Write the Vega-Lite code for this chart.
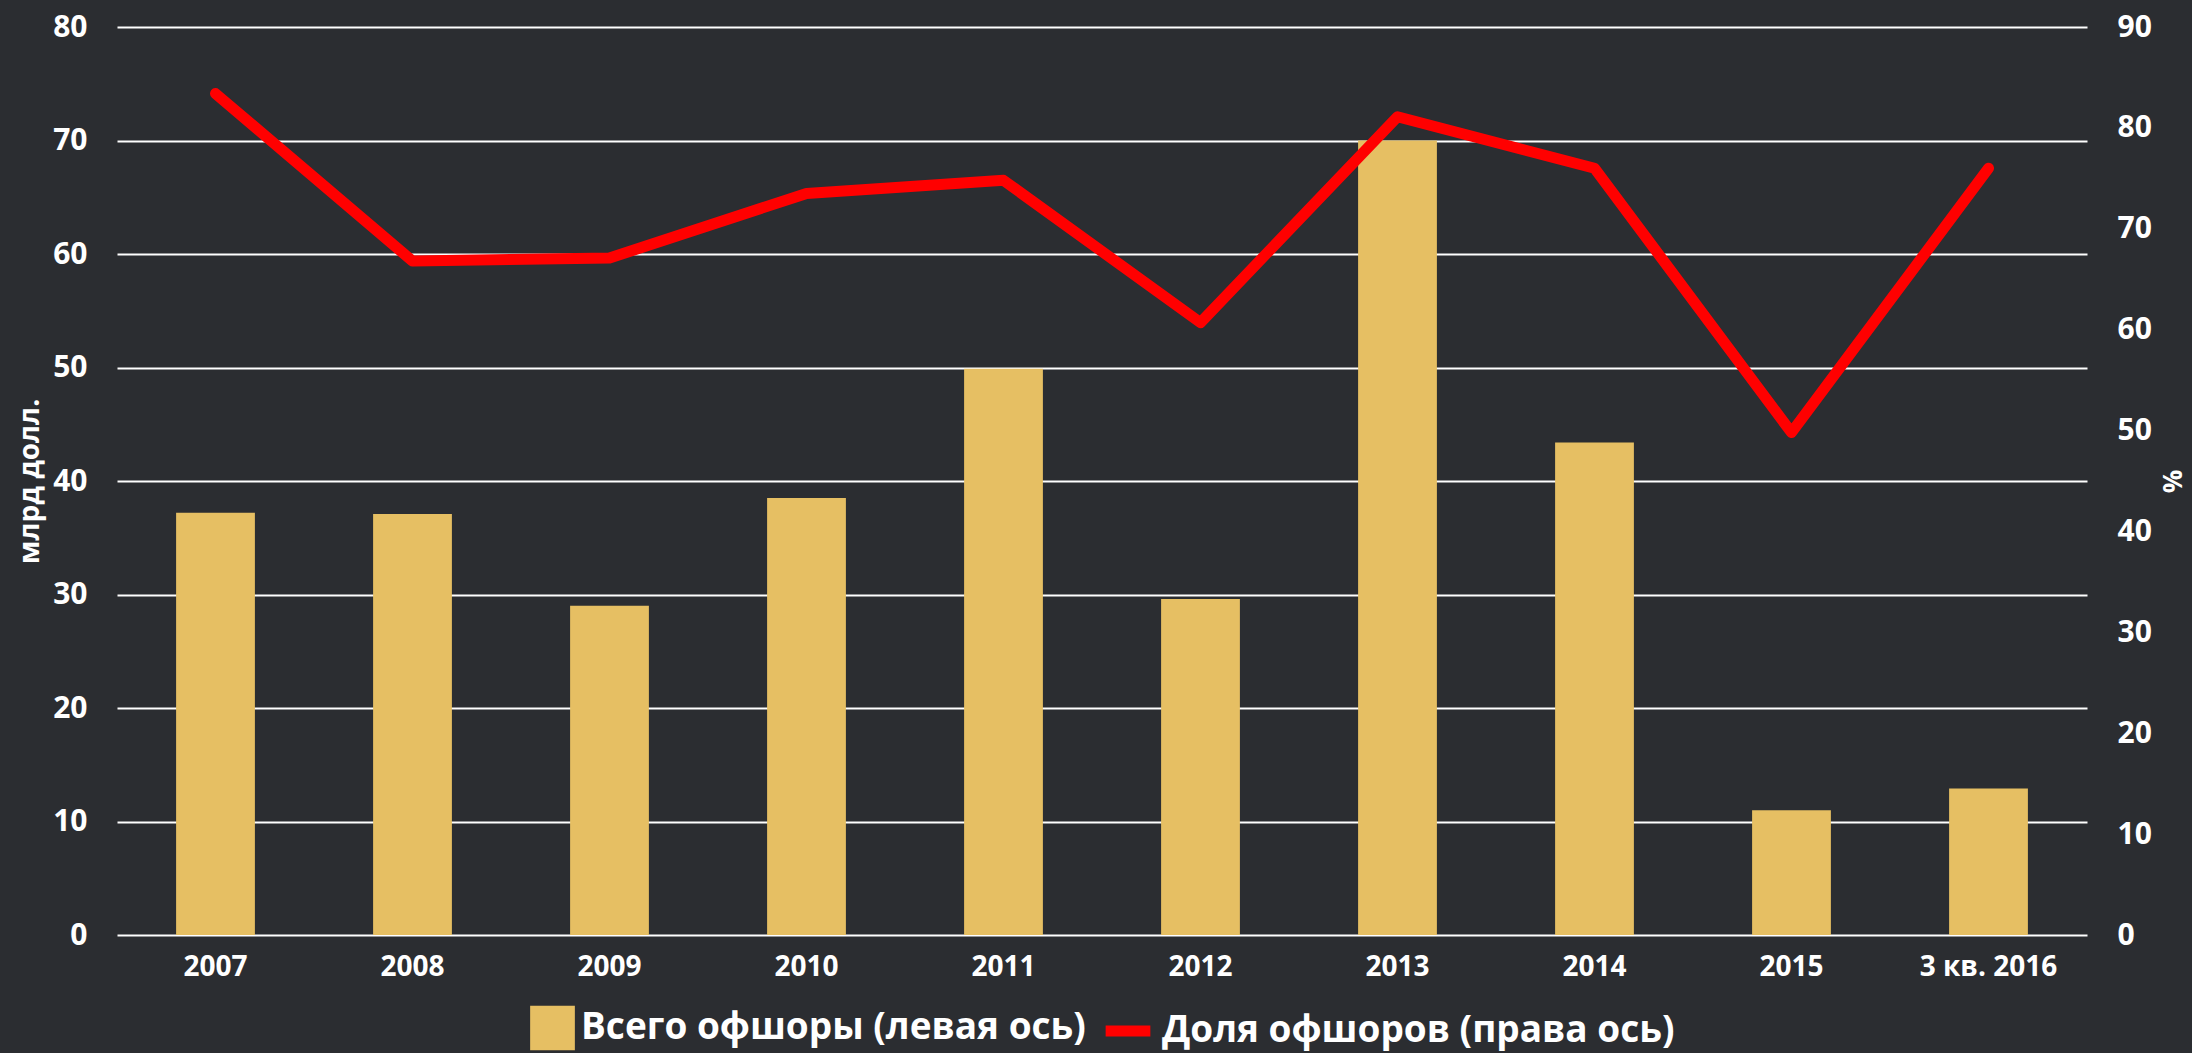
{
  "$schema": "https://vega.github.io/schema/vega-lite/v6.json",
  "width": 1970,
  "height": 908,
  "padding": {"left": 16, "top": 12, "right": 8, "bottom": 0},
  "background": "#2b2d31",
  "config": {
    "view": {"stroke": null},
    "font": "Open Sans",
    "axis": {
      "labelColor": "#ffffff",
      "titleColor": "#ffffff",
      "labelFont": "Open Sans",
      "titleFont": "Open Sans",
      "labelFontWeight": "bold",
      "titleFontWeight": "bold",
      "domain": false,
      "ticks": false,
      "grid": false
    },
    "legend": {
      "orient": "bottom",
      "title": null,
      "labelColor": "#ffffff",
      "labelFont": "Open Sans",
      "labelFontWeight": "bold",
      "labelFontSize": 37,
      "labelLimit": 2000,
      "labelOffset": 6,
      "padding": 0,
      "offset": 22,
      "layout": {"bottom": {"anchor": "middle", "direction": "horizontal", "center": true, "margin": 14}}
    }
  },
  "data": {
    "values": [
      {"year": "2007", "total": 37.2, "share": 83.4},
      {"year": "2008", "total": 37.1, "share": 66.8},
      {"year": "2009", "total": 29.0, "share": 67.1},
      {"year": "2010", "total": 38.5, "share": 73.5},
      {"year": "2011", "total": 49.9, "share": 74.8},
      {"year": "2012", "total": 29.6, "share": 60.7},
      {"year": "2013", "total": 70.0, "share": 81.1},
      {"year": "2014", "total": 43.4, "share": 76.0},
      {"year": "2015", "total": 11.0, "share": 49.8},
      {"year": "3 кв. 2016", "total": 12.9, "share": 76.0}
    ]
  },
  "encoding": {
    "x": {
      "field": "year",
      "type": "nominal",
      "sort": null,
      "scale": {"paddingInner": 0.6, "paddingOuter": 0.3},
      "axis": {"title": null, "labelAngle": 0, "labelFontSize": 28, "labelPadding": 18}
    }
  },
  "layer": [
    {
      "mark": {"type": "bar"},
      "encoding": {
        "y": {
          "field": "total",
          "type": "quantitative",
          "scale": {"domain": [0, 80], "nice": false},
          "axis": {
            "values": [0, 10, 20, 30, 40, 50, 60, 70, 80],
            "grid": true,
            "gridColor": "#ffffff",
            "gridWidth": 2,
            "gridOpacity": 1,
            "title": "млрд долл.",
            "labelFontSize": 30,
            "labelPadding": 30,
            "titleFontSize": 28,
            "titlePadding": 8
          }
        },
        "fill": {
          "datum": "Всего офшоры (левая ось)",
          "scale": {"range": ["#E6BF63"]},
          "legend": {"symbolType": "square", "symbolSize": 2000, "symbolStrokeWidth": 0, "symbolOpacity": 1}
        }
      }
    },
    {
      "mark": {"type": "line", "strokeWidth": 11, "strokeCap": "round", "strokeJoin": "round"},
      "encoding": {
        "y": {
          "field": "share",
          "type": "quantitative",
          "scale": {"domain": [0, 90], "nice": false},
          "axis": {
            "orient": "right",
            "values": [0, 10, 20, 30, 40, 50, 60, 70, 80, 90],
            "title": "%",
            "labelFontSize": 30,
            "labelPadding": 30,
            "titleFontSize": 26,
            "titlePadding": 6
          }
        },
        "stroke": {
          "datum": "Доля офшоров (права ось)",
          "scale": {"range": ["#FF0000"]},
          "legend": {"symbolType": "stroke", "symbolSize": 2000, "symbolStrokeWidth": 11}
        }
      }
    }
  ],
  "resolve": {"scale": {"y": "independent"}}
}
